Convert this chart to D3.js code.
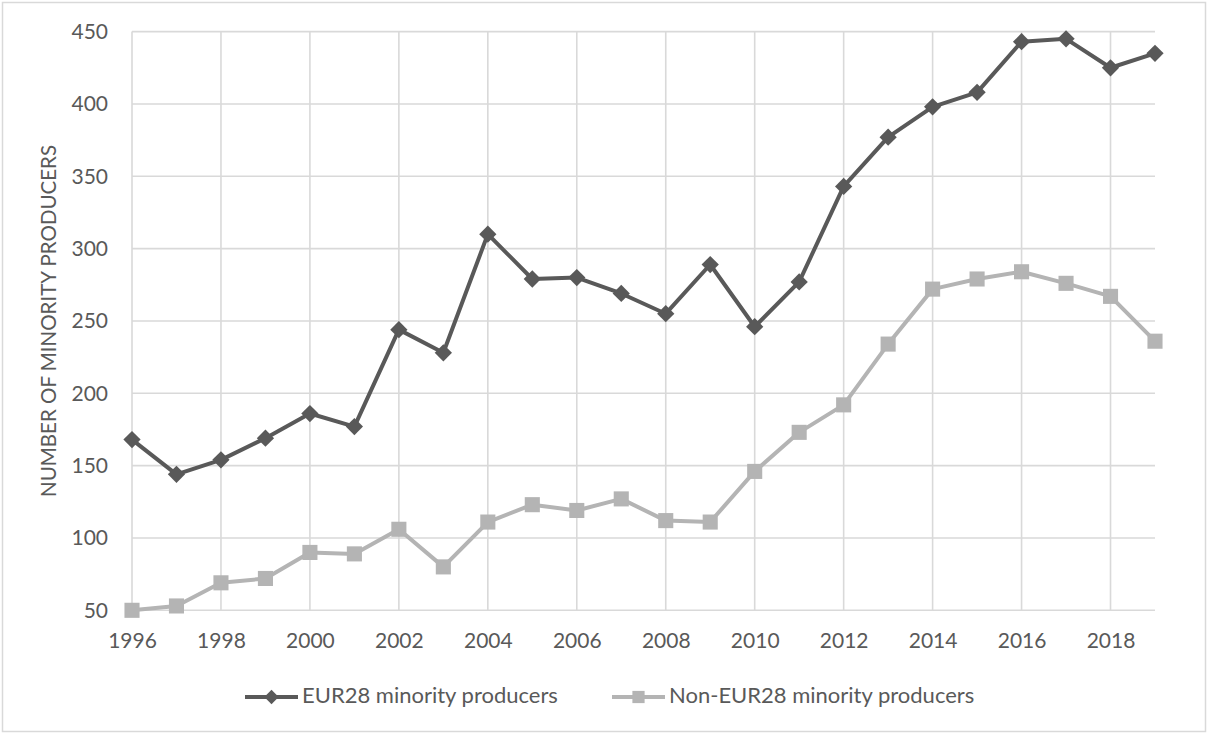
<!DOCTYPE html>
<html>
<head>
<meta charset="utf-8">
<script src="https://cdn.jsdelivr.net/npm/d3@7"></script>
<style>
  html, body { margin: 0; padding: 0; background: #fff; }
  svg { display: block; font-family: Lato, "Open Sans", sans-serif; }
</style>
</head>
<body>
<svg id="chart" width="1208" height="734"></svg>
<script>
// Years on the x axis
const years = d3.range(1996, 2020);

// Number of minority producers per year
const eur28 = [168, 144, 154, 169, 186, 177, 244, 228, 310, 279, 280, 269,
               255, 289, 246, 277, 343, 377, 398, 408, 443, 445, 425, 435];
const nonEur28 = [50, 53, 69, 72, 90, 89, 106, 80, 111, 123, 119, 127,
                  112, 111, 146, 173, 192, 234, 272, 279, 284, 276, 267, 236];

const yTicks = [50, 100, 150, 200, 250, 300, 350, 400, 450];
const xTicks = [1996, 1998, 2000, 2002, 2004, 2006, 2008, 2010, 2012, 2014, 2016, 2018];

const seriesNames = ["EUR28 minority producers", "Non-EUR28 minority producers"];
const seriesColors = ["#595959", "#b4b4b4"];

const svg = d3.select("#chart");
const W = 1208, H = 734;
const margin = { left: 132, right: 53, top: 31.6, bottom: 123.7 };

// Outer chart frame
svg.append("rect")
  .attr("x", 2.5).attr("y", 2.5)
  .attr("width", W - 5).attr("height", H - 5)
  .attr("fill", "#fff").attr("stroke", "#d9d9d9").attr("stroke-width", 1.5);

const x = d3.scaleLinear().domain([1996, 2019]).range([margin.left, W - margin.right]);
const y = d3.scaleLinear().domain([50, 450]).range([H - margin.bottom, margin.top]);

// Gridlines
const grid = svg.append("g").attr("stroke", "#d9d9d9").attr("stroke-width", 1.6);
grid.selectAll("line.h").data(yTicks).join("line")
  .attr("x1", x(1996)).attr("x2", x(2019))
  .attr("y1", d => y(d)).attr("y2", d => y(d));
grid.selectAll("line.v").data(xTicks).join("line")
  .attr("x1", d => x(d)).attr("x2", d => x(d))
  .attr("y1", y(50)).attr("y2", y(450));

// Axes (labels only, no domain lines)
const yAxis = svg.append("g")
  .attr("transform", `translate(${margin.left},0)`)
  .call(d3.axisLeft(y).tickValues(yTicks).tickSize(0).tickPadding(24));
const xAxis = svg.append("g")
  .attr("transform", `translate(0,${y(50)})`)
  .call(d3.axisBottom(x).tickValues(xTicks).tickFormat(d3.format("d")).tickSize(0).tickPadding(23));
[yAxis, xAxis].forEach(a => {
  a.select(".domain").remove();
  a.selectAll("text").attr("fill", "#595959").style("font-size", "21px").style("font-family", "Lato, sans-serif");
});

// Y axis title
svg.append("text")
  .attr("transform", `translate(51,${(y(50) + y(450)) / 2}) rotate(-90)`)
  .attr("text-anchor", "middle")
  .attr("dominant-baseline", "middle")
  .attr("fill", "#595959")
  .style("font-size", "20.5px")
  .text("NUMBER OF MINORITY PRODUCERS");

// Lines and markers
const line = d3.line().x((d, i) => x(years[i])).y(d => y(d));
const diamond = d3.symbol().type(d3.symbolDiamond2).size(190);
const square = d3.symbol().type(d3.symbolSquare2).size(290);

[eur28, nonEur28].forEach((vals, s) => {
  svg.append("path").datum(vals)
    .attr("d", line)
    .attr("fill", "none")
    .attr("stroke", seriesColors[s])
    .attr("stroke-width", 4)
    .attr("stroke-linejoin", "round");
});

[eur28, nonEur28].forEach((vals, s) => {
  svg.append("g").selectAll("path").data(vals).join("path")
    .attr("transform", (d, i) => `translate(${x(years[i])},${y(d)})`)
    .attr("d", s === 0 ? diamond : square)
    .attr("fill", seriesColors[s]);
});

// Legend
const legendY = 697;
const legendItems = [
  { name: seriesNames[0], color: seriesColors[0], sym: d3.symbol().type(d3.symbolDiamond2).size(130), x0: 245 },
  { name: seriesNames[1], color: seriesColors[1], sym: d3.symbol().type(d3.symbolSquare2).size(190), x0: 612 }
];
const lg = svg.append("g");
legendItems.forEach(it => {
  const g = lg.append("g").attr("transform", `translate(${it.x0},${legendY})`);
  g.append("line").attr("x1", 0).attr("x2", 53).attr("y1", 0).attr("y2", 0)
    .attr("stroke", it.color).attr("stroke-width", 4);
  g.append("path").attr("d", it.sym).attr("transform", "translate(26.5,0)").attr("fill", it.color);
  g.append("text").attr("x", 57).attr("y", 0).attr("dominant-baseline", "middle")
    .attr("fill", "#595959").style("font-size", "22px").text(it.name);
});
</script>
</body>
</html>
